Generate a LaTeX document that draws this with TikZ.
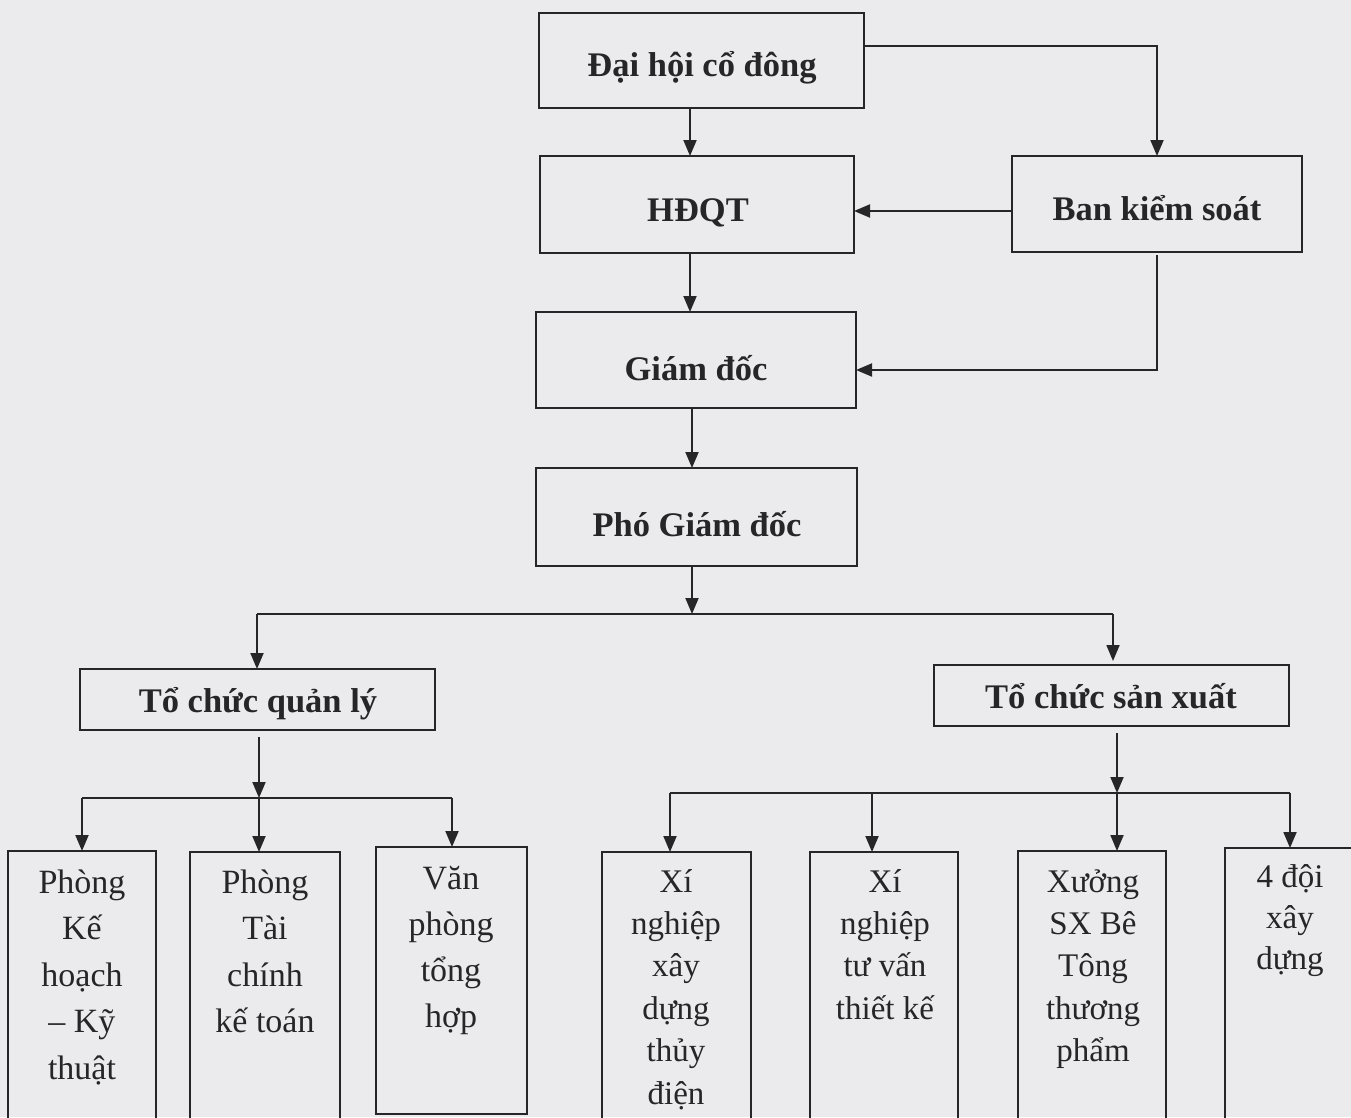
\documentclass[tikz,border=0pt]{standalone}
\usepackage{fontspec}
\setmainfont{Liberation Serif}
\usetikzlibrary{arrows.meta}
\definecolor{paper}{RGB}{235,235,237}
\definecolor{ink}{RGB}{38,38,40}
\newcommand\mlines[2]{\vtop{\baselineskip=#1\lineskip=0pt\lineskiplimit=-1000pt\halign{\hfil##\hfil\cr#2\crcr}}}
\begin{document}
\begin{tikzpicture}[x=1pt,y=-1pt,
  box/.style={draw=ink, line width=1.9pt, inner sep=0pt, outer sep=0pt},
  head/.style={text=ink, inner sep=0pt, anchor=base, font=\fontsize{34.5}{40}\selectfont\bfseries},
  subl/.style={text=ink, inner sep=0pt, anchor=base, font=\fontsize{34}{40}\selectfont},
  subr/.style={text=ink, inner sep=0pt, anchor=base, font=\fontsize{33}{40}\selectfont},
  ln/.style={draw=ink, line width=1.9pt},
  arr/.style={draw=ink, line width=1.9pt, -{Triangle[length=16pt,width=13pt]}}]
\useasboundingbox (0,0) rectangle (1351,1117);
\fill[paper] (0,0) rectangle (1351,1117);
\clip (0,0) rectangle (1351,1117);

% top boxes
\node[box, minimum width=325pt, minimum height=95pt] (dh) at (701.5,60.5) {};
\node[box, minimum width=314pt, minimum height=97pt] (hd) at (697,204.5) {};
\node[box, minimum width=290pt, minimum height=96pt] (bks) at (1157,204) {};
\node[box, minimum width=320pt, minimum height=96pt] (gd) at (696,360) {};
\node[box, minimum width=321pt, minimum height=98pt] (pgd) at (696.5,517) {};
\node[box, minimum width=355pt, minimum height=61pt] (tcql) at (257.5,699.5) {};
\node[box, minimum width=355pt, minimum height=61pt] (tcsx) at (1111.5,695.5) {};

\node[head] (dht) at (702,76) {Đại hội cổ đông};
\node[head] (hdt) at (698,221) {HĐQT};
\node[head] (bkst) at (1157,220) {Ban kiểm soát};
\node[head] (gdt) at (696,380) {Giám đốc};
\node[head] (pgdt) at (697,536) {Phó Giám đốc};
\node[head] (tcqlt) at (258,712) {Tổ chức quản lý};
\node[head] (tcsxt) at (1111,708) {Tổ chức sản xuất};

% bottom boxes
\node[box, minimum width=148pt, minimum height=279pt] (p1) at (82,990.5) {};
\node[box, minimum width=150pt, minimum height=278pt] (p2) at (265,991) {};
\node[box, minimum width=151pt, minimum height=267pt] (p3) at (451.5,980.5) {};
\node[box, minimum width=149pt, minimum height=278pt] (x1) at (676.5,991) {};
\node[box, minimum width=148pt, minimum height=278pt] (x2) at (884,991) {};
\node[box, minimum width=148pt, minimum height=279pt] (x3) at (1092,990.5) {};
\node[box, minimum width=130pt, minimum height=282pt] (x4) at (1290,989) {};

\node[subl] (p1t) at (82,893) {\mlines{46.5pt}{Phòng\cr Kế\cr hoạch\cr – Kỹ\cr thuật}};
\node[subl] (p2t) at (265,893) {\mlines{46.5pt}{Phòng\cr Tài\cr chính\cr kế toán}};
\node[subl] (p3t) at (451,889) {\mlines{46pt}{Văn\cr phòng\cr tổng\cr hợp}};
\node[subr] (x1t) at (676,892) {\mlines{42.4pt}{Xí\cr nghiệp\cr xây\cr dựng\cr thủy\cr điện}};
\node[subr] (x2t) at (885,892) {\mlines{42.4pt}{Xí\cr nghiệp\cr tư vấn\cr thiết kế}};
\node[subr] (x3t) at (1093,892) {\mlines{42.4pt}{Xưởng\cr SX Bê\cr Tông\cr thương\cr phẩm}};
\node[subr] (x4t) at (1290,887) {\mlines{41pt}{4 đội\cr xây\cr dựng}};

% connector coordinates
\coordinate (ca) at (690,0);
\coordinate (cb) at (692,0);
\coordinate (k1) at (1157,46);
\coordinate (k2) at (0,211);
\coordinate (k3) at (0,370);
\coordinate (b1m) at (692,614);
\coordinate (b1l) at (257,614);
\coordinate (b1r) at (1113,614);
\coordinate (b2m) at (259,798);
\coordinate (b2l) at (82,798);
\coordinate (b2r) at (452,798);
\coordinate (b3m) at (1117,793);
\coordinate (b3l) at (670,793);
\coordinate (b3a) at (872,793);
\coordinate (b3r) at (1290,793);

% main chain
\draw[arr] (dh.south -| ca) -- (hd.north -| ca);
\draw[arr] (hd.south -| ca) -- (gd.north -| ca);
\draw[arr] (gd.south -| cb) -- (pgd.north -| cb);
\draw[arr] (dh.east |- k1) -| (bks.north);
\draw[arr] (bks.west |- k2) -- (hd.east |- k2);
\draw[arr, shorten <=3pt] (bks.south) |- (gd.east |- k3);
\draw[arr] (pgd.south -| cb) -- (b1m);

% first bus
\draw[ln] (b1l) -- (b1r);
\draw[arr] (b1l) -- (tcql.north -| b1l);
\draw[arr, shorten >=4pt] (b1r) -- (tcsx.north -| b1r);

% management bus
\draw[arr, shorten <=7pt] (tcql.south -| b2m) -- (b2m);
\draw[ln] (b2l) -- (b2r);
\draw[arr] (b2l) -- (p1.north -| b2l);
\draw[arr] (b2m) -- (p2.north -| b2m);
\draw[arr] (b2r) -- (p3.north -| b2r);

% production bus
\draw[arr, shorten <=7pt] (tcsx.south -| b3m) -- (b3m);
\draw[ln] (b3l) -- (b3r);
\draw[arr] (b3l) -- (x1.north -| b3l);
\draw[arr] (b3a) -- (x2.north -| b3a);
\draw[arr] (b3m) -- (x3.north -| b3m);
\draw[arr] (b3r) -- (x4.north -| b3r);
\end{tikzpicture}
\end{document}
